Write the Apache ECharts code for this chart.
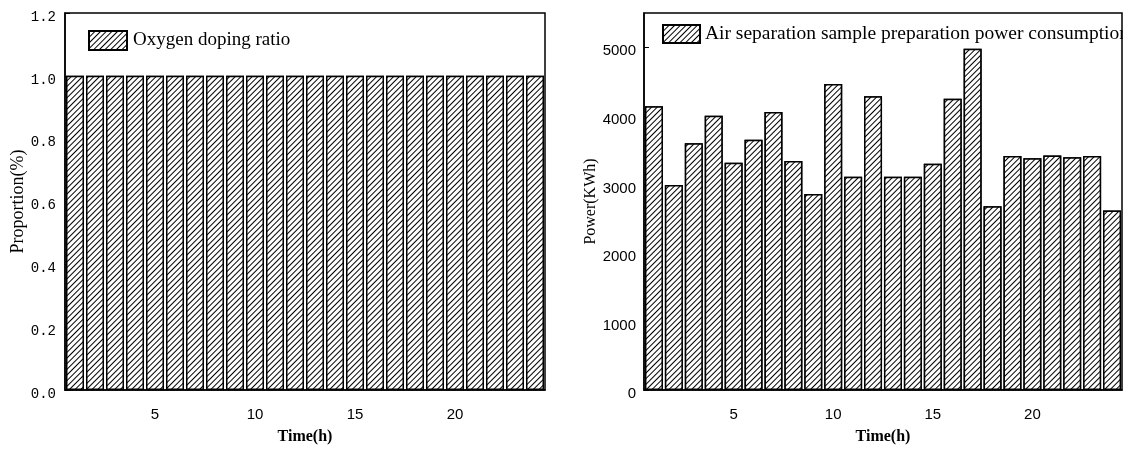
<!DOCTYPE html>
<html>
<head>
<meta charset="utf-8">
<script src="https://cdn.jsdelivr.net/npm/echarts@6/dist/echarts.min.js"></script>
<style>
html,body{margin:0;padding:0;background:#fff;}
#chart{width:1123px;height:450px;}
</style>
</head>
<body>
<div id="chart"></div>
<script>
// hours on the x axis
var hours = ['1','2','3','4','5','6','7','8','9','10','11','12',
             '13','14','15','16','17','18','19','20','21','22','23','24'];
// left panel: oxygen doping ratio
var oxygenRatio = [1,1,1,1,1,1,1,1,1,1,1,1,1,1,1,1,1,1,1,1,1,1,1,1];
// right panel: air separation power consumption (KWh)
var powerKWh = [4140,2990,3600,4000,3315,3650,4055,3340,2860,4465,3110,4285,
                3110,3110,3300,4250,4980,2680,3415,3380,3420,3395,3415,2620];

var chart = echarts.init(document.getElementById('chart'));

var hatch = {
  symbol: 'rect',
  symbolSize: 1,
  color: '#000',
  backgroundColor: '#fff',
  dashArrayX: [1, 0],
  dashArrayY: [1, 3],
  rotation: -Math.PI / 4
};
var barStyle = { color: '#fff', borderColor: '#000', borderWidth: 1.5, decal: hatch };

function everyFifth(i, v) { return (+v) % 5 === 0; }

function xAxisFor(gi) {
  return {
    type: 'category', gridIndex: gi, data: hours,
    name: 'Time(h)', nameLocation: 'middle', nameGap: 39,
    nameTextStyle: { fontFamily: 'Liberation Serif', fontSize: 16, fontWeight: 'bold', color: '#000' },
    axisLine: { lineStyle: { color: '#000', width: 1.5 } },
    axisTick: { inside: true, length: 5, interval: everyFifth, alignWithLabel: true, lineStyle: { color: '#000' } },
    axisLabel: { interval: everyFifth, margin: 17, fontFamily: 'Liberation Sans', fontSize: 15, color: '#000' },
    splitLine: { show: false }
  };
}

var option = {
  animation: false,
  grid: [
    { left: 65, top: 13, width: 480, height: 384, show: true, borderColor: '#000', borderWidth: 1.5 },
    { left: 644, top: 13, width: 478, height: 384, show: true, borderColor: '#000', borderWidth: 1.5 }
  ],
  legend: [
    { left: 83, top: 25, icon: 'rect', itemWidth: 38, itemHeight: 19, data: ['Oxygen doping ratio'],
      textStyle: { fontFamily: 'Liberation Serif', fontSize: 19, color: '#000', padding: [0, 0, 0, 1] } },
    { left: 657, top: 19, icon: 'rect', itemWidth: 37, itemHeight: 18, data: ['Air separation sample preparation power consumption'],
      textStyle: { fontFamily: 'Liberation Serif', fontSize: 19.5, color: '#000' } }
  ],
  xAxis: [xAxisFor(0), xAxisFor(1)],
  yAxis: [
    {
      type: 'value', gridIndex: 0, min: 0, max: 1.2, interval: 0.2,
      name: 'Proportion(%)', nameLocation: 'middle', nameGap: 34,
      nameTextStyle: { fontFamily: 'Liberation Serif', fontSize: 18, color: '#000' },
      axisLine: { show: true, lineStyle: { color: '#000', width: 1.5 } },
      axisTick: { show: true, inside: true, length: 5, lineStyle: { color: '#000' } },
      axisLabel: { margin: 9, color: '#000',
        formatter: function (v) { return '{v|' + v.toFixed(1) + '}'; },
        rich: { v: { fontFamily: 'Liberation Mono', fontSize: 14, color: '#000', padding: [8, 0, 0, 0] } } },
      splitLine: { show: false }
    },
    {
      type: 'value', gridIndex: 1, min: 0, max: 5500, interval: 1000,
      name: 'Power(KWh)', nameLocation: 'middle', nameGap: 44,
      nameTextStyle: { fontFamily: 'Liberation Serif', fontSize: 16, color: '#000' },
      axisLine: { show: true, lineStyle: { color: '#000', width: 1.5 } },
      axisTick: { show: true, inside: true, length: 5, lineStyle: { color: '#000' } },
      axisLabel: { margin: 8, color: '#000', showMaxLabel: false,
        formatter: function (v) { return '{v|' + v + '}'; },
        rich: { v: { fontFamily: 'Liberation Sans', fontSize: 15, color: '#000', padding: [8, 0, 0, 0] } } },
      splitLine: { show: false }
    }
  ],
  series: [
    { name: 'Oxygen doping ratio', type: 'bar', xAxisIndex: 0, yAxisIndex: 0,
      data: oxygenRatio, barWidth: 18, itemStyle: barStyle },
    { name: 'Air separation sample preparation power consumption', type: 'bar', xAxisIndex: 1, yAxisIndex: 1,
      data: powerKWh, barWidth: 18, itemStyle: barStyle }
  ]
};
chart.setOption(option);
</script>
</body>
</html>
